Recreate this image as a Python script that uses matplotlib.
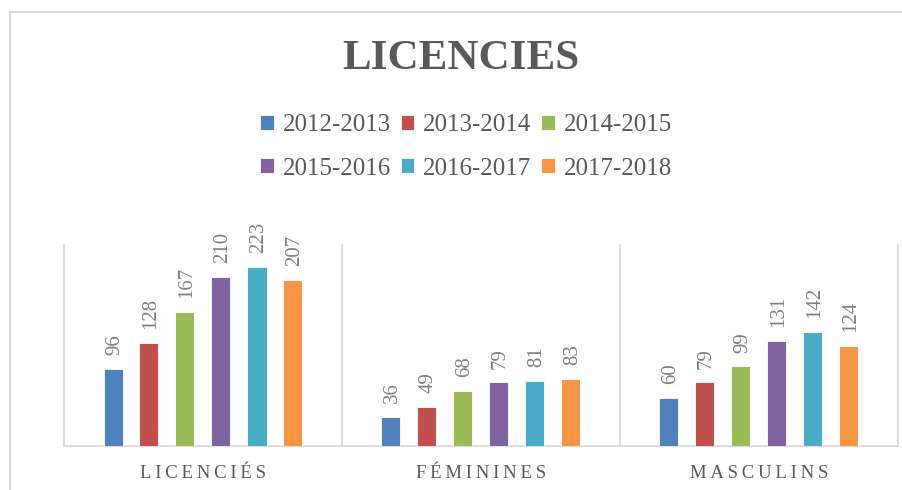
import matplotlib.pyplot as plt
import matplotlib.patches as mpatches
from matplotlib.lines import Line2D
import numpy as np

###### DATA ######
categories = ['LICENCIÉS', 'FÉMININES', 'MASCULINS']
seasons = ['2012-2013', '2013-2014', '2014-2015', '2015-2016', '2016-2017', '2017-2018']
values = [
    [96, 36, 60],     # 2012-2013
    [128, 49, 79],    # 2013-2014
    [167, 68, 99],    # 2014-2015
    [210, 79, 131],   # 2015-2016
    [223, 81, 142],   # 2016-2017
    [207, 83, 124],   # 2017-2018
]
colors = ['#4F81BD', '#C0504D', '#9BBB59', '#8064A2', '#4BACC6', '#F79646']

###### FIGURE ######
W, H = 902, 490
fig = plt.figure(figsize=(W / 100, H / 100), dpi=100)
serif = ['Liberation Serif', 'DejaVu Serif']
plt.rcParams['font.family'] = serif

# outer chart border (light gray)
fig.add_artist(Line2D([10 / W, 10 / W], [0, 1 - 12 / H], color='#d9d9d9', lw=1.5,
                      transform=fig.transFigure))
fig.add_artist(Line2D([10 / W, 1], [1 - 12 / H, 1 - 12 / H], color='#d9d9d9', lw=1.5,
                      transform=fig.transFigure))

# plot area
left, right, bottom, top = 64, 898, 446, 245
ax = fig.add_axes([left / W, 1 - bottom / H, (right - left) / W, (bottom - top) / H])
ax.set_xlim(-0.5, 2.5)
ax.set_ylim(0, 250)
for s in ax.spines.values():
    s.set_visible(False)
ax.set_xticks([])
ax.set_yticks([])

# category separators and baseline
for xs in [-0.5, 0.5, 1.5, 2.5]:
    ax.plot([xs, xs], [0, 250], color='#d9d9d9', lw=1.3, clip_on=False, zorder=1)
ax.plot([-0.5, 2.5], [0, 0], color='#d9d9d9', lw=1.3, clip_on=False, zorder=1)

x = np.arange(len(categories))
pitch = 36 / 278
bw = 19 / 278
handles = []
for i, (s, v, c) in enumerate(zip(seasons, values, colors)):
    xi = x + (i - 2.5) * pitch
    bars = ax.bar(xi, v, width=bw, color=c, edgecolor='white', lw=0.6, zorder=2, label=s)
    handles.append(bars)
    for xx, vv in zip(xi, v):
        ax.annotate(str(vv), (xx, vv), xytext=(1, 10), textcoords='offset points',
                    rotation=90, rotation_mode='anchor', ha='left', va='center',
                    fontsize=15, color='#808080')

# category labels, letter spaced
for xx, cat in zip(x, categories):
    ax.text(xx, -34, '\u2009'.join(cat), ha='center', va='center',
            fontsize=13.5, color='#595959')

# title
fig.text(461 / W, 1 - 59 / H, 'LICENCIES', ha='center', va='center',
         fontsize=31, fontweight='bold', color='#595959')

# legend: rows of three
order = [0, 3, 1, 4, 2, 5]
leg = fig.legend([handles[k] for k in order], [seasons[k] for k in order],
                 ncol=3, loc='center', bbox_to_anchor=(466 / W, 1 - 147 / H),
                 frameon=False, fontsize=18, handlelength=0.55, handleheight=0.55,
                 handletextpad=0.35, columnspacing=0.4, labelspacing=0.85,
                 borderpad=0)
for t in leg.get_texts():
    t.set_color('#595959')

fig.savefig('out.png', dpi=100)
